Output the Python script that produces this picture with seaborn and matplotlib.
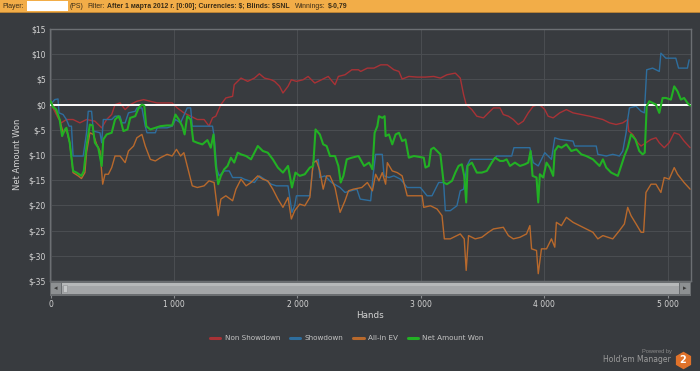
import pandas as pd
import matplotlib
matplotlib.use("Agg")
import matplotlib.pyplot as plt
import seaborn as sns
from matplotlib.lines import Line2D
from matplotlib.patches import Rectangle

# ── Data ──────────────────────────────────────────────────────────────────────
net_hands = [0, 19, 46, 73, 93, 114, 128, 155, 182, 210, 250, 269, 291, 318, 340, 359, 386, 414, 427, 454,
             495, 522, 550, 569, 590, 623, 645, 686, 713, 740, 759, 775, 808, 849, 890, 944, 985, 1012, 1039,
             1067, 1086, 1107, 1135, 1156, 1189, 1230, 1271, 1298, 1320, 1339, 1358, 1380, 1407, 1434, 1461,
             1488, 1516, 1543, 1584, 1624, 1679, 1720, 1760, 1801, 1842, 1883, 1924, 1956, 1984, 2019, 2060,
             2101, 2128, 2147, 2182, 2209, 2237, 2264, 2305, 2332, 2351, 2373, 2400, 2441, 2495, 2540, 2581,
             2608, 2626, 2648, 2661, 2688, 2707, 2715, 2742, 2769, 2796, 2823, 2849, 2876, 2903, 2944, 3024,
             3038, 3065, 3083, 3105, 3132, 3159, 3185, 3212, 3253, 3280, 3306, 3333, 3352, 3368, 3379, 3414,
             3454, 3495, 3535, 3575, 3602, 3642, 3669, 3696, 3723, 3763, 3804, 3844, 3871, 3890, 3906, 3938,
             3952, 3965, 3992, 4019, 4046, 4073, 4086, 4113, 4140, 4180, 4220, 4261, 4301, 4341, 4395, 4449,
             4476, 4503, 4543, 4597, 4624, 4650, 4677, 4704, 4739, 4771, 4798, 4815, 4831, 4852, 4879, 4906,
             4933, 4960, 4986, 5027, 5054, 5081, 5108, 5134, 5161, 5183]
net_won = [0.66, -0.46, -0.99, -2.96, -6.25, -5.0, -4.61, -7.57, -13.16, -13.49, -14.14, -13.16, -8.22, -3.95,
           -4.14, -7.57, -8.55, -12.17, -6.91, -5.92, -5.59, -2.96, -2.30, -3.29, -5.26, -4.93, -2.63, -2.30,
           -0.66, 0.0, -0.2, -4.28, -4.93, -4.61, -4.28, -4.14, -4.14, -1.97, -2.96, -4.28, -5.92, -2.30,
           -2.96, -7.24, -7.57, -7.89, -7.04, -8.55, -5.92, -12.17, -15.79, -14.14, -12.83, -12.17, -10.53,
           -11.51, -9.54, -9.87, -10.2, -10.86, -8.22, -9.21, -9.54, -10.86, -12.5, -13.49, -12.17, -16.45,
           -13.49, -14.14, -13.82, -12.5, -12.17, -4.93, -5.92, -7.89, -8.22, -10.2, -10.2, -12.17, -15.46,
           -14.14, -10.86, -10.53, -10.2, -12.17, -11.51, -12.83, -5.59, -4.28, -2.30, -2.63, -2.30, -6.25,
           -5.92, -7.89, -5.92, -5.59, -7.24, -6.91, -10.53, -10.2, -10.53, -12.5, -12.17, -8.88, -8.55,
           -9.21, -9.87, -15.46, -15.79, -15.13, -13.49, -12.17, -11.84, -14.14, -19.41, -12.17, -11.51,
           -13.49, -13.49, -13.16, -11.51, -10.53, -11.18, -11.18, -10.86, -12.17, -11.51, -12.17, -11.84,
           -11.51, -9.21, -14.14, -14.47, -19.41, -13.82, -14.47, -11.51, -12.5, -14.14, -9.21, -8.22, -8.55,
           -7.89, -9.21, -8.88, -9.87, -10.2, -10.86, -12.17, -10.86, -12.5, -13.49, -14.14, -12.17, -10.2,
           -8.55, -5.92, -6.91, -9.21, -9.87, -9.54, -0.33, 0.66, 0.33, 0.0, -1.64, 1.32, 1.32, 0.99, 3.62,
           2.63, 0.99, 1.32, 0.33, -0.2]

nonsd_hands = [0, 33, 60, 87, 128, 182, 237, 291, 359, 414, 454, 495, 522, 563, 604, 645, 699, 754, 808, 863,
               917, 985, 1026, 1080, 1135, 1189, 1244, 1284, 1312, 1339, 1380, 1420, 1475, 1488, 1543, 1597,
               1652, 1692, 1733, 1788, 1815, 1856, 1883, 1924, 1951, 1992, 2046, 2087, 2141, 2196, 2250, 2305,
               2332, 2386, 2441, 2495, 2513, 2567, 2621, 2675, 2729, 2782, 2823, 2849, 2903, 2970, 3038, 3105,
               3159, 3212, 3280, 3320, 3347, 3368, 3414, 3454, 3508, 3548, 3589, 3642, 3669, 3710, 3750, 3790,
               3831, 3871, 3911, 3952, 3978, 4005, 4032, 4073, 4126, 4180, 4234, 4301, 4368, 4422, 4476, 4529,
               4583, 4637, 4677, 4685, 4718, 4758, 4785, 4825, 4866, 4906, 4933, 4973, 5013, 5054, 5094, 5134,
               5183]
nonsd_won = [0.33, -1.32, -2.63, -3.62, -2.96, -2.96, -3.62, -2.96, -3.29, -4.61, -2.96, -1.97, 0.0, 0.33,
             -0.99, 0.0, 0.66, 0.99, 0.66, 0.33, 0.33, 0.33, -0.66, -1.64, -2.30, -2.96, -2.96, -4.28, -2.63,
             -2.30, 0.0, 1.32, 1.64, 3.95, 5.26, 4.61, 5.26, 6.12, 5.26, 4.93, 4.61, 3.62, 2.30, 3.62, 4.93,
             4.61, 4.93, 5.59, 4.28, 4.93, 5.59, 3.95, 5.59, 5.92, 6.91, 6.91, 6.58, 7.24, 7.24, 7.89, 7.89,
             6.91, 6.58, 5.07, 5.59, 5.46, 5.46, 5.59, 5.26, 5.92, 6.25, 5.26, 1.97, 0.0, -0.99, -2.30, -2.63,
             -1.64, -0.66, -0.66, -1.97, -2.30, -2.96, -3.95, -3.29, -1.64, -0.33, 0.0, -0.33, -0.99, -2.30,
             -2.63, -1.64, -0.99, -1.64, -1.97, -2.30, -2.63, -2.96, -3.62, -3.95, -3.62, -2.96, -5.26, -5.92,
             -7.57, -8.22, -7.57, -6.91, -6.58, -7.57, -8.55, -7.57, -5.59, -5.92, -7.24, -8.55]

sd_hands = [0, 33, 60, 68, 101, 128, 150, 169, 182, 264, 291, 305, 332, 346, 400, 414, 427, 495, 522, 563,
            577, 604, 631, 686, 699, 740, 767, 781, 849, 863, 944, 985, 1012, 1053, 1107, 1135, 1148, 1189,
            1312, 1325, 1347, 1366, 1407, 1448, 1475, 1543, 1570, 1611, 1652, 1692, 1733, 1788, 1829, 1924,
            1956, 1978, 1992, 2060, 2101, 2128, 2169, 2182, 2223, 2277, 2346, 2386, 2482, 2509, 2594, 2616,
            2634, 2688, 2702, 2742, 2782, 2836, 2890, 2997, 3051, 3091, 3145, 3185, 3199, 3239, 3293, 3320,
            3347, 3374, 3401, 3589, 3616, 3737, 3755, 3884, 3911, 3952, 4005, 4059, 4086, 4126, 4234, 4247,
            4422, 4435, 4503, 4556, 4610, 4637, 4664, 4677, 4691, 4745, 4785, 4812, 4831, 4879, 4933, 4946,
            4986, 5067, 5089, 5161, 5175]
sd_won = [0.0, 0.99, 1.12, -1.64, -1.97, -2.96, -4.28, -4.28, -10.2, -10.2, -5.59, -1.32, -1.32, -5.26, -5.59,
          -7.57, -2.96, -2.96, -2.30, -2.30, -3.62, -3.62, -1.64, -1.32, -0.66, -0.66, -4.28, -5.59, -5.59,
          -4.61, -4.61, -4.28, -2.96, -3.62, -0.66, -0.66, -4.28, -4.28, -4.28, -6.25, -12.83, -14.14, -13.16,
          -13.16, -14.47, -14.47, -14.8, -15.13, -15.46, -14.14, -14.8, -15.79, -16.12, -16.12, -21.38,
          -20.07, -18.09, -18.09, -18.09, -11.51, -10.86, -14.47, -14.14, -15.46, -16.45, -17.43, -16.78,
          -18.75, -19.08, -13.49, -9.87, -9.87, -14.14, -14.47, -14.14, -14.8, -16.45, -16.45, -18.09,
          -18.09, -15.46, -15.46, -21.05, -21.05, -20.07, -17.1, -16.78, -12.17, -10.86, -10.86, -10.2,
          -10.2, -8.55, -8.55, -11.51, -12.17, -9.54, -10.86, -6.58, -6.91, -7.24, -8.22, -8.22, -9.87,
          -10.2, -9.87, -10.2, -9.21, -5.59, -2.96, -0.66, -0.33, -1.32, -1.64, 6.91, 7.24, 6.58, 10.2, 9.21,
          9.21, 7.24, 7.24, 8.88]

ev_hands = [0, 33, 73, 101, 128, 155, 182, 223, 250, 278, 291, 318, 346, 373, 400, 422, 441, 468, 495, 522,
            563, 604, 631, 672, 699, 740, 767, 808, 849, 890, 944, 985, 1020, 1053, 1080, 1107, 1148, 1189,
            1244, 1284, 1325, 1358, 1380, 1420, 1475, 1502, 1543, 1584, 1624, 1679, 1720, 1760, 1801, 1842,
            1883, 1924, 1951, 1978, 2019, 2060, 2101, 2128, 2155, 2182, 2209, 2237, 2264, 2305, 2346, 2386,
            2414, 2454, 2522, 2567, 2608, 2634, 2661, 2688, 2715, 2729, 2769, 2809, 2849, 2890, 2957, 3011,
            3024, 3078, 3132, 3172, 3191, 3239, 3320, 3352, 3368, 3387, 3441, 3495, 3548, 3589, 3669, 3710,
            3750, 3804, 3857, 3884, 3898, 3938, 3952, 3978, 4019, 4059, 4086, 4099, 4140, 4180, 4234, 4288,
            4341, 4395, 4435, 4476, 4516, 4556, 4610, 4650, 4677, 4704, 4745, 4785, 4806, 4825, 4866, 4906,
            4946, 4973, 5013, 5054, 5081, 5134, 5183]
ev_won = [0.66, -0.66, -2.96, -5.59, -4.93, -7.57, -13.49, -14.14, -14.67, -13.49, -9.54, -5.59, -5.92, -7.89,
          -9.21, -15.79, -13.82, -13.82, -12.5, -10.2, -10.2, -11.51, -9.21, -8.22, -6.58, -5.92, -8.22,
          -10.86, -11.18, -10.53, -9.87, -10.2, -8.88, -10.2, -9.54, -12.17, -16.12, -16.45, -16.12, -15.13,
          -15.46, -22.04, -18.75, -18.09, -19.08, -16.78, -14.8, -16.12, -15.46, -14.14, -14.8, -15.13,
          -16.78, -18.75, -20.39, -18.42, -22.7, -21.05, -19.74, -20.07, -18.42, -11.51, -11.18, -13.16,
          -16.78, -14.14, -14.14, -16.45, -21.38, -19.08, -17.1, -16.78, -16.45, -15.46, -17.1, -13.82,
          -15.13, -13.49, -15.79, -11.51, -13.16, -13.49, -14.14, -18.09, -18.09, -18.09, -20.39, -20.07,
          -20.72, -22.04, -26.64, -26.64, -25.66, -26.64, -32.9, -25.99, -26.64, -26.32, -25.33, -24.67,
          -24.34, -25.99, -26.64, -26.32, -25.66, -24.01, -28.62, -28.95, -33.55, -28.62, -28.62, -26.64,
          -28.29, -23.36, -24.01, -22.37, -23.36, -24.01, -24.67, -25.33, -26.64, -25.99, -26.32, -26.64,
          -25.0, -23.68, -20.39, -22.04, -23.68, -25.33, -25.33, -17.43, -15.79, -15.79, -17.43, -14.47,
          -14.8, -12.5, -13.82, -15.46, -16.78]

series_names = ["Non Showdown", "Showdown", "All-in EV", "Net Amount Won"]
series_colors = ["#a83236", "#2e6e9e", "#b8692c", "#22b024"]
x_ticks = [0, 1000, 2000, 3000, 4000, 5000]
x_tick_labels = ["0", "1 000", "2 000", "3 000", "4 000", "5 000"]
y_ticks = [15, 10, 5, 0, -5, -10, -15, -20, -25, -30, -35]
y_tick_labels = ["$15", "$10", "$5", "$0", "$-5", "$-10", "$-15", "$-20", "$-25", "$-30", "$-35"]

# header pieces after the redacted player name: (text, bold)
header_player = "Player:"
header_parts = [
    ("(PS)", False),
    ("Filter:", False),
    ("After 1 марта 2012 г. [0:00]; Currencies: $; Blinds: $SNL", True),
    ("Winnings:", False),
    ("$-0,79", True),
]

# ── Styling ───────────────────────────────────────────────────────────────────
BG = "#383b3f"
GRID = "#4a4d51"
FRAME = "#6c6f73"
TXT = "#d4d4d4"
HDR_TXT = "#3a2d18"
HDR_FONT = "Liberation Sans"
W, H = 700, 371

sns.set_theme(style="dark")
plt.rcParams["font.family"] = ["DejaVu Sans"]


def fx(px):
    return px / W


def fy(py):
    return 1 - py / H


frames = []
for name, hands, won in [
    ("Non Showdown", nonsd_hands, nonsd_won),
    ("Showdown", sd_hands, sd_won),
    ("All-in EV", ev_hands, ev_won),
    ("Net Amount Won", net_hands, net_won),
]:
    frames.append(pd.DataFrame({"hands": hands, "won": won, "series": name}))
df = pd.concat(frames, ignore_index=True)

fig = plt.figure(figsize=(W / 100, H / 100), dpi=100, facecolor=BG)
renderer = fig.canvas.get_renderer()


def text_width(s, size, weight="normal", family=HDR_FONT):
    t = fig.text(0, 0, s, fontsize=size, fontweight=weight, family=family, parse_math=False)
    w = t.get_window_extent(renderer=renderer).width
    t.remove()
    return w


def fit_text(x0, x1, y, s, color, weight="normal", family=HDR_FONT):
    """Place text so it spans x0..x1 pixels, like the reference."""
    size = 10 * (x1 - x0) / text_width(s, 10, weight, family)
    return fig.text(fx(x0), fy(y), s, color=color, fontsize=size, fontweight=weight,
                    family=family, ha="left", va="center", parse_math=False)


ax = fig.add_axes([fx(50), fy(281), fx(691) - fx(50), fy(29) - fy(281)])
ax.set_facecolor(BG)

for name, color in zip(series_names, series_colors):
    sub = df[df["series"] == name]
    lw = 1.5 if name == "Net Amount Won" else 1.0
    z = 4 if name == "Net Amount Won" else 2
    sns.lineplot(data=sub, x="hands", y="won", color=color, linewidth=lw,
                 estimator=None, sort=False, ax=ax, legend=False, zorder=z)

ax.axhline(0, color="white", linewidth=1.4, zorder=3)

ax.set_xlim(-5, 5190)
ax.set_ylim(-35, 15)
ax.set_xticks(x_ticks)
ax.set_xticklabels(x_tick_labels)
ax.set_yticks(y_ticks)
ax.set_yticklabels(y_tick_labels)
ax.tick_params(axis="x", colors="#8a8d90", labelcolor=TXT, labelsize=5.5,
               length=12.5, width=0.8, pad=1.2, bottom=True)
ax.tick_params(axis="y", labelcolor=TXT, labelsize=5.5, length=0, pad=3)
ax.set_xlabel("")
ax.set_ylabel("")
ax.grid(True, color=GRID, linewidth=0.8)
for s in ax.spines.values():
    s.set_color(FRAME)
    s.set_linewidth(1.0)

# scrollbar under the plot
fig.patches.append(Rectangle((fx(50), fy(296)), fx(641), 15 / H, transform=fig.transFigure,
                             facecolor="#6a6d70", edgecolor="none"))
fig.patches.append(Rectangle((fx(62), fy(294)), fx(617), 11 / H, transform=fig.transFigure,
                             facecolor="#a4a6a8", edgecolor="none"))
fig.patches.append(Rectangle((fx(62), fy(286)), fx(617), 3 / H, transform=fig.transFigure,
                             facecolor="#b6b8b9", edgecolor="none"))
fig.patches.append(Rectangle((fx(51), fy(294)), fx(10), 11 / H, transform=fig.transFigure,
                             facecolor="#8d9092", edgecolor="none"))
fig.patches.append(Rectangle((fx(680), fy(294)), fx(10), 11 / H, transform=fig.transFigure,
                             facecolor="#8d9092", edgecolor="none"))
fig.patches.append(Rectangle((fx(63), fy(292)), fx(4), 7 / H, transform=fig.transFigure,
                             facecolor="#c4c6c7", edgecolor="#8d9092", linewidth=0.4))
fig.text(fx(56), fy(288.5), "◂", color="#3a3a3a", fontsize=5, ha="center", va="center")
fig.text(fx(685), fy(288.5), "▸", color="#3a3a3a", fontsize=5, ha="center", va="center")

# axis titles
fig.text(fx(370), fy(316), "Hands", color=TXT, fontsize=6.3, ha="center", va="center")
fig.text(fx(17), fy(154), "Net Amount Won", color=TXT, fontsize=6, rotation=90,
         ha="center", va="center")

# legend
handles = [Line2D([], [], color=c, linewidth=2.2) for c in series_colors]
fig.legend(handles, series_names, loc="center", bbox_to_anchor=(fx(347), fy(338)), ncol=4,
           frameon=False, fontsize=5.2, labelcolor="#c4c4c4", handlelength=1.4,
           handletextpad=0.6, columnspacing=1.4)

# header bar
fig.patches.append(Rectangle((0, fy(12)), 1, 12 / H, transform=fig.transFigure,
                             facecolor="#f2ad48", edgecolor="none"))
fig.patches.append(Rectangle((0, fy(13)), 1, 1 / H, transform=fig.transFigure,
                             facecolor="#b98235", edgecolor="none"))
fig.patches.append(Rectangle((fx(27), fy(11)), fx(41), 10 / H, transform=fig.transFigure,
                             facecolor="white", edgecolor="none"))

# one font size for the whole header line, so it runs from x=70 to x=348
gap10 = 6.0
widths10 = [text_width(t, 10, "bold" if b else "normal") for t, b in header_parts]
scale = (348 - 70) / (sum(widths10) + gap10 * (len(header_parts) - 1))
hdr_size = 10 * scale
fig.text(fx(2), fy(6.3), header_player, color=HDR_TXT, fontsize=hdr_size, family=HDR_FONT,
         ha="left", va="center")
x = 70.0
for (txt, bold), w10 in zip(header_parts, widths10):
    fig.text(fx(x), fy(6.3), txt, color=HDR_TXT, fontsize=hdr_size, family=HDR_FONT,
             fontweight="bold" if bold else "normal", ha="left", va="center", parse_math=False)
    x += (w10 + gap10) * scale

# watermark
fit_text(642, 672, 351.5, "Powered by", "#8c8c8c")
fit_text(603, 671, 360, "Hold'em Manager", "#9c9c9c", family="DejaVu Sans")
fig.add_artist(Line2D([fx(683)], [fy(360)], marker="h", markersize=11.5, color="#e0722a",
                      linestyle="none", transform=fig.transFigure))
fig.text(fx(683), fy(360), "2", color="white", fontsize=7, fontweight="bold",
         ha="center", va="center")

fig.savefig("out.png", dpi=100, facecolor=BG)
